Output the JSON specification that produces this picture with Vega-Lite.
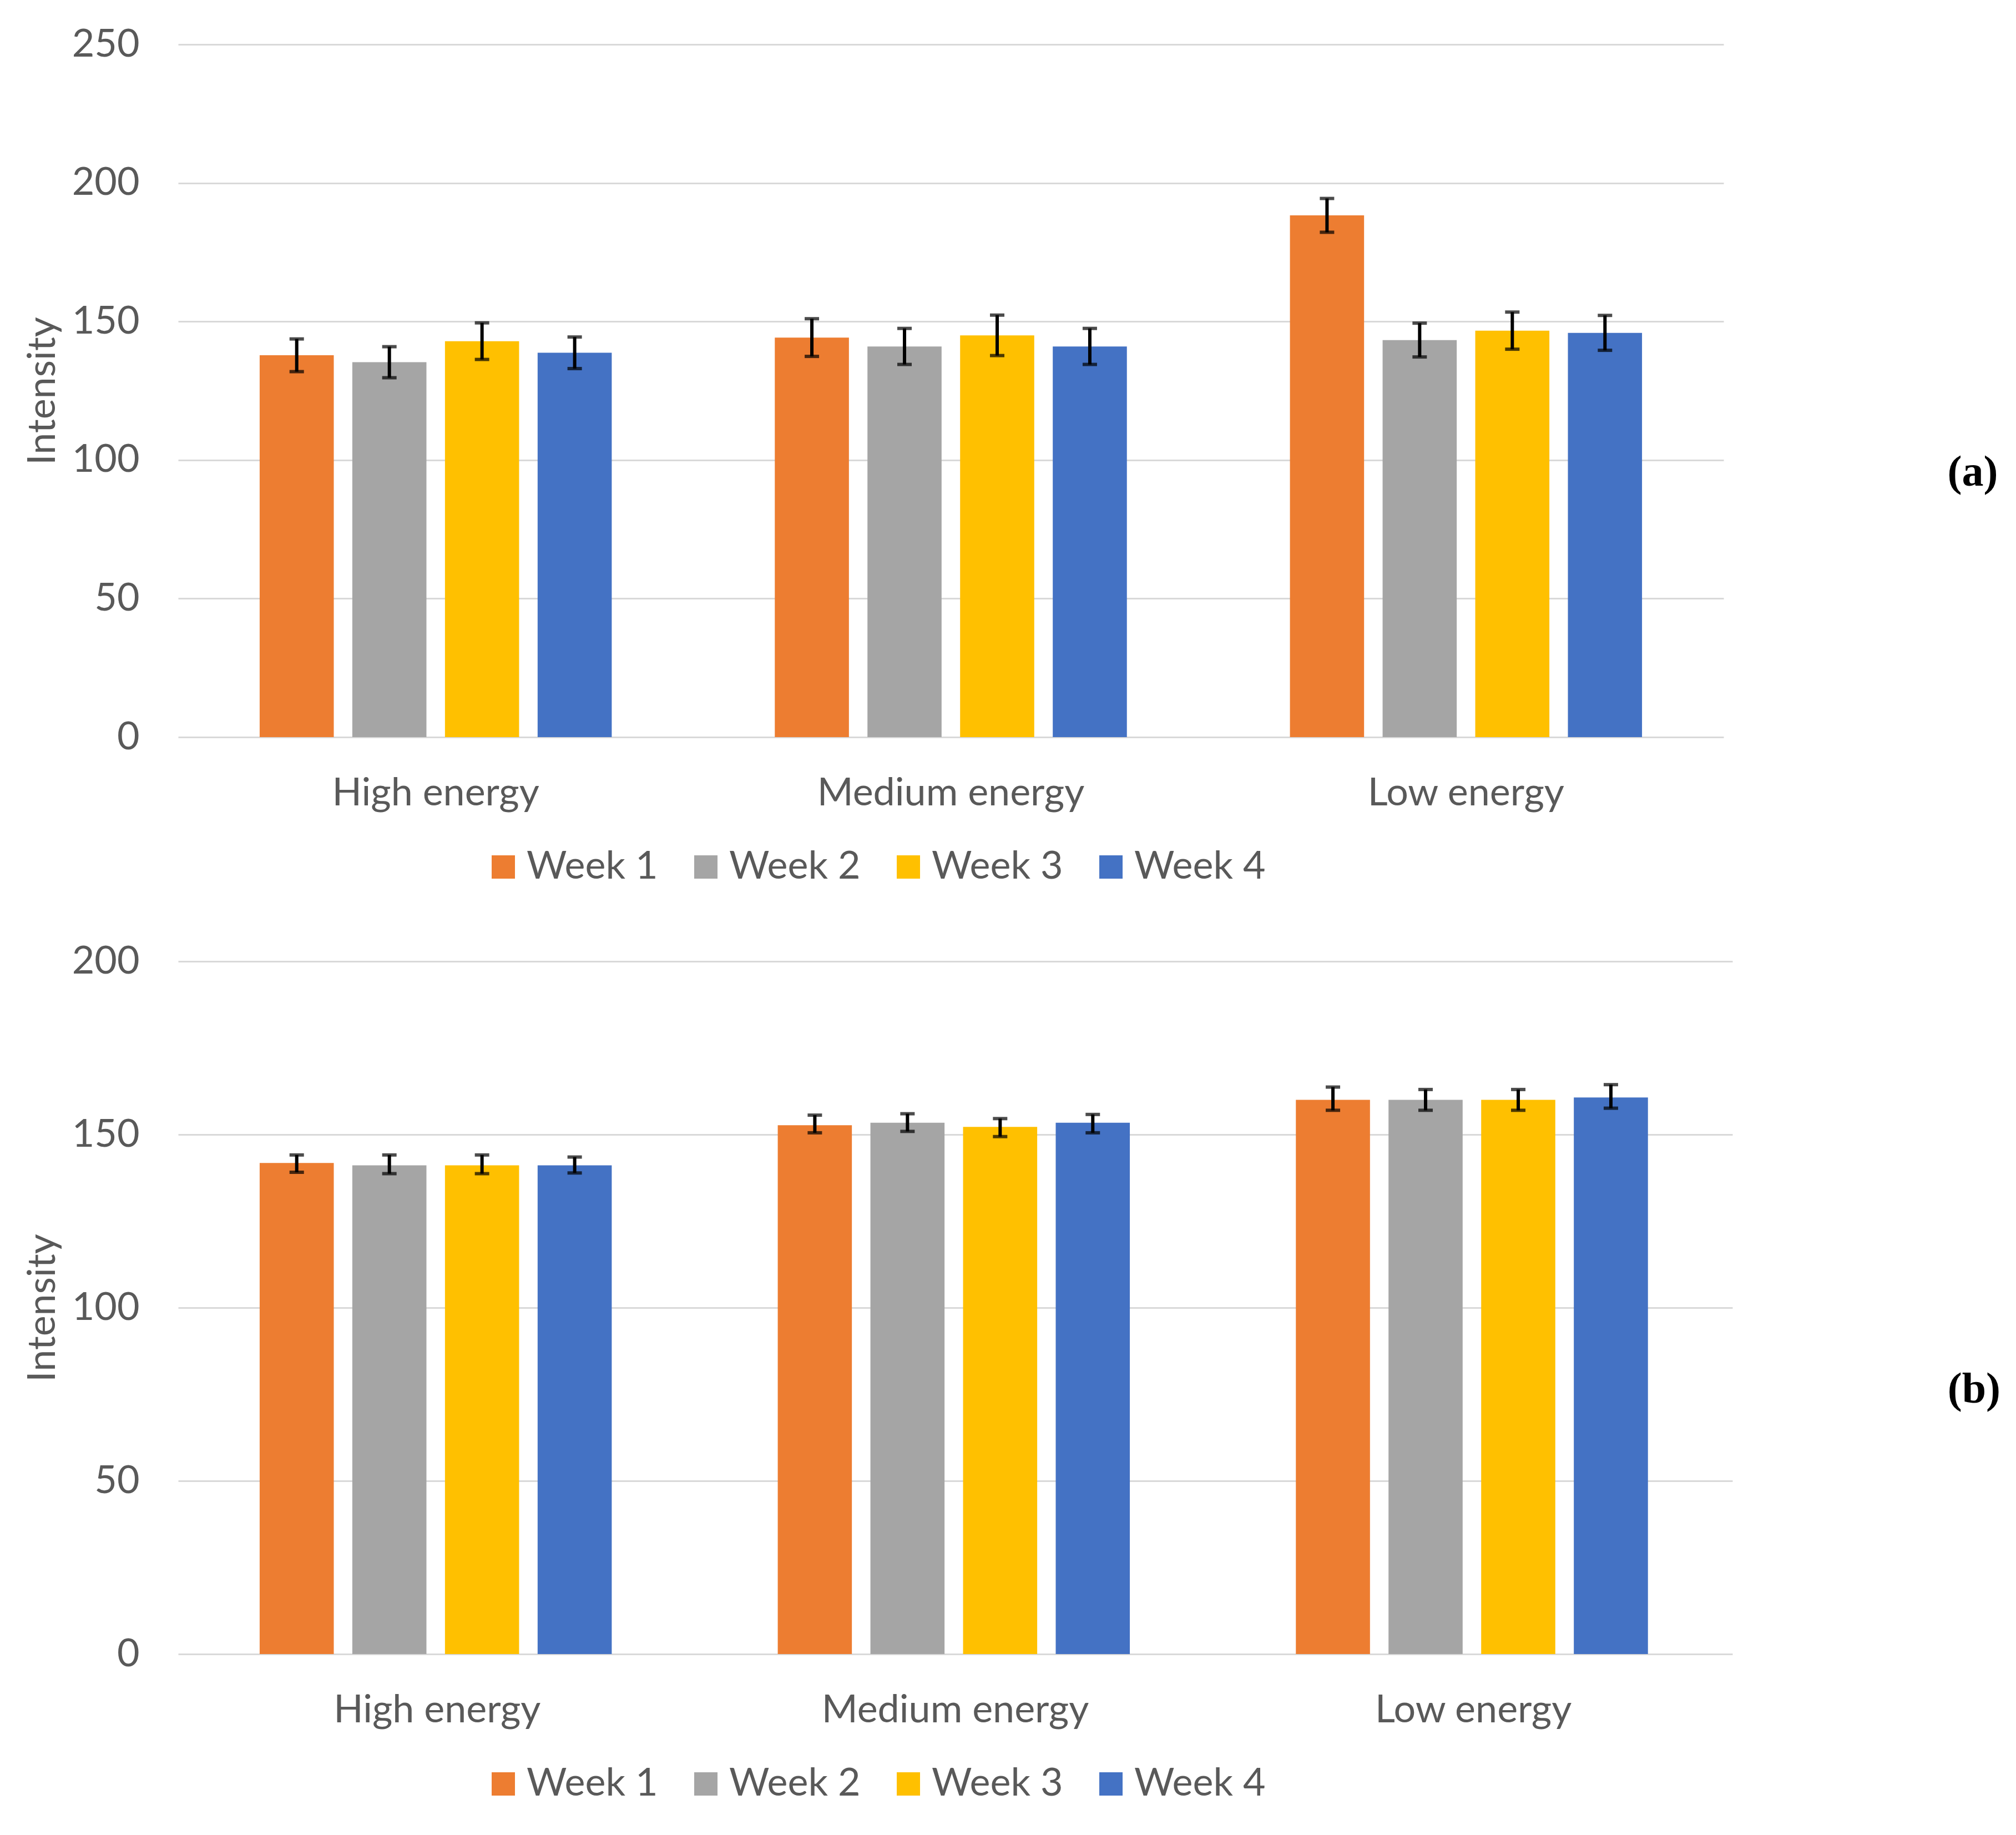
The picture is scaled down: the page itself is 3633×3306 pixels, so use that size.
{
  "$schema": "https://vega.github.io/schema/vega-lite/v6.json",
  "background": "white",
  "padding": {"left": 42, "top": 45, "right": 0, "bottom": 0},
  "spacing": 100,
  "datasets": {
    "a": [
      {"energy": "High energy", "week": "Week 1", "value": 137.8, "lo": 131.9, "hi": 143.7},
      {"energy": "High energy", "week": "Week 2", "value": 135.3, "lo": 129.7, "hi": 140.9},
      {"energy": "High energy", "week": "Week 3", "value": 142.9, "lo": 136.3, "hi": 149.5},
      {"energy": "High energy", "week": "Week 4", "value": 138.7, "lo": 133.0, "hi": 144.4},
      {"energy": "Medium energy", "week": "Week 1", "value": 144.2, "lo": 137.4, "hi": 151.0},
      {"energy": "Medium energy", "week": "Week 2", "value": 141.0, "lo": 134.5, "hi": 147.5},
      {"energy": "Medium energy", "week": "Week 3", "value": 145.0, "lo": 137.7, "hi": 152.3},
      {"energy": "Medium energy", "week": "Week 4", "value": 141.0, "lo": 134.5, "hi": 147.5},
      {"energy": "Low energy", "week": "Week 1", "value": 188.3, "lo": 182.2, "hi": 194.4},
      {"energy": "Low energy", "week": "Week 2", "value": 143.3, "lo": 137.2, "hi": 149.4},
      {"energy": "Low energy", "week": "Week 3", "value": 146.7, "lo": 140.0, "hi": 153.4},
      {"energy": "Low energy", "week": "Week 4", "value": 145.9, "lo": 139.6, "hi": 152.2}
    ],
    "b": [
      {"energy": "High energy", "week": "Week 1", "value": 141.8, "lo": 139.1, "hi": 144.1},
      {"energy": "High energy", "week": "Week 2", "value": 141.1, "lo": 138.7, "hi": 144.1},
      {"energy": "High energy", "week": "Week 3", "value": 141.1, "lo": 138.7, "hi": 144.1},
      {"energy": "High energy", "week": "Week 4", "value": 141.1, "lo": 138.9, "hi": 143.5},
      {"energy": "Medium energy", "week": "Week 1", "value": 152.7, "lo": 150.5, "hi": 155.6},
      {"energy": "Medium energy", "week": "Week 2", "value": 153.4, "lo": 150.9, "hi": 156.0},
      {"energy": "Medium energy", "week": "Week 3", "value": 152.2, "lo": 149.4, "hi": 154.6},
      {"energy": "Medium energy", "week": "Week 4", "value": 153.4, "lo": 150.5, "hi": 155.8},
      {"energy": "Low energy", "week": "Week 1", "value": 160.0, "lo": 157.0, "hi": 163.7},
      {"energy": "Low energy", "week": "Week 2", "value": 160.0, "lo": 157.0, "hi": 163.0},
      {"energy": "Low energy", "week": "Week 3", "value": 160.0, "lo": 157.0, "hi": 163.0},
      {"energy": "Low energy", "week": "Week 4", "value": 160.7, "lo": 157.6, "hi": 164.4}
    ]
  },
  "vconcat": [
    {
      "width": 2785,
      "height": 1248,
      "data": {"name": "a"},
      "title": {"text": "(a)", "orient": "right", "angle": 0, "anchor": "middle", "offset": 358, "dy": 109},
      "encoding": {
        "x": {"field": "energy", "type": "nominal", "sort": ["High energy", "Medium energy", "Low energy"], "title": null,
              "scale": {"paddingInner": 0, "paddingOuter": 0}},
        "xOffset": {"field": "week", "type": "nominal", "scale": {"paddingInner": 0.2, "paddingOuter": 0.88}}
      },
      "layer": [
        {
          "mark": {"type": "bar"},
          "encoding": {
            "y": {"field": "value", "type": "quantitative", "title": "Intensity",
                  "scale": {"domain": [0, 250], "nice": false}, "axis": {"values": [0, 50, 100, 150, 200, 250]}},
            "color": {"field": "week", "type": "nominal", "title": null,
                      "scale": {"domain": ["Week 1", "Week 2", "Week 3", "Week 4"], "range": ["#ED7D31", "#A5A5A5", "#FFC000", "#4472C4"]},
                      "legend": {"legendX": 551, "legendY": 1447}}
          }
        },
        {
          "mark": {"type": "rule", "color": "black", "strokeWidth": 6},
          "encoding": {"y": {"field": "lo", "type": "quantitative", "scale": {"domain": [0, 250], "nice": false}}, "y2": {"field": "hi"}}
        },
        {
          "mark": {"type": "tick", "color": "black", "size": 26, "thickness": 6, "orient": "horizontal"},
          "encoding": {"y": {"field": "lo", "type": "quantitative", "scale": {"domain": [0, 250], "nice": false}}}
        },
        {
          "mark": {"type": "tick", "color": "black", "size": 26, "thickness": 6, "orient": "horizontal"},
          "encoding": {"y": {"field": "hi", "type": "quantitative", "scale": {"domain": [0, 250], "nice": false}}}
        }
      ]
    },
    {
      "width": 2801,
      "height": 1248,
      "data": {"name": "b"},
      "title": {"text": "(b)", "orient": "right", "angle": 0, "anchor": "middle", "offset": 340, "dy": 109},
      "encoding": {
        "x": {"field": "energy", "type": "nominal", "sort": ["High energy", "Medium energy", "Low energy"], "title": null,
              "scale": {"paddingInner": 0, "paddingOuter": 0}},
        "xOffset": {"field": "week", "type": "nominal", "scale": {"paddingInner": 0.2, "paddingOuter": 0.88}}
      },
      "layer": [
        {
          "mark": {"type": "bar"},
          "encoding": {
            "y": {"field": "value", "type": "quantitative", "title": "Intensity",
                  "scale": {"domain": [0, 200], "nice": false}, "axis": {"values": [0, 50, 100, 150, 200]}},
            "color": {"field": "week", "type": "nominal", "title": null,
                      "scale": {"domain": ["Week 1", "Week 2", "Week 3", "Week 4"], "range": ["#ED7D31", "#A5A5A5", "#FFC000", "#4472C4"]},
                      "legend": {"legendX": 551, "legendY": 1447}}
          }
        },
        {
          "mark": {"type": "rule", "color": "black", "strokeWidth": 6},
          "encoding": {"y": {"field": "lo", "type": "quantitative", "scale": {"domain": [0, 200], "nice": false}}, "y2": {"field": "hi"}}
        },
        {
          "mark": {"type": "tick", "color": "black", "size": 26, "thickness": 6, "orient": "horizontal"},
          "encoding": {"y": {"field": "lo", "type": "quantitative", "scale": {"domain": [0, 200], "nice": false}}}
        },
        {
          "mark": {"type": "tick", "color": "black", "size": 26, "thickness": 6, "orient": "horizontal"},
          "encoding": {"y": {"field": "hi", "type": "quantitative", "scale": {"domain": [0, 200], "nice": false}}}
        }
      ]
    }
  ],
  "resolve": {"scale": {"color": "independent"}},
  "config": {
    "view": {"stroke": null},
    "font": "Lato",
    "axis": {
      "domain": false,
      "ticks": false,
      "labelFont": "Lato",
      "labelFontSize": 70,
      "labelColor": "#595959",
      "labelLimit": 0,
      "titleFont": "Lato",
      "titleFontSize": 70,
      "titleFontWeight": "normal",
      "titleColor": "#595959"
    },
    "axisX": {"grid": false, "labelAngle": 0, "labelPadding": 67},
    "axisY": {"grid": true, "gridColor": "#D9D9D9", "gridWidth": 3, "labelPadding": 70, "titlePadding": 16},
    "legend": {
      "orient": "none",
      "direction": "horizontal",
      "symbolType": "square",
      "symbolSize": 1764,
      "symbolStrokeWidth": 0,
      "labelFont": "Lato",
      "labelFontSize": 70,
      "labelColor": "#595959",
      "labelLimit": 0,
      "labelOffset": 7,
      "columnPadding": 51
    },
    "title": {"font": "Liberation Serif", "fontWeight": "bold", "fontSize": 78, "color": "black"}
  }
}
